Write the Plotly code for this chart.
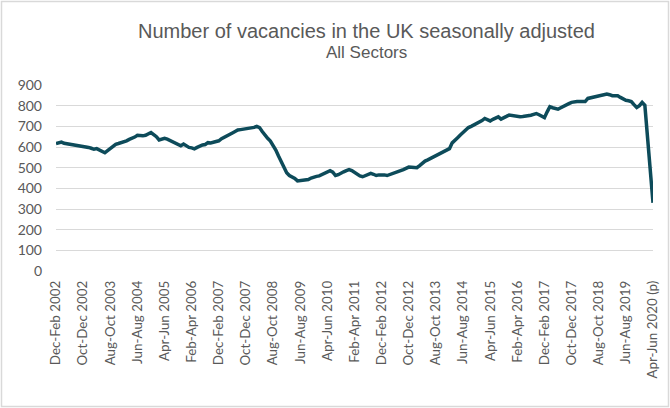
import plotly.graph_objects as go

# ---- data (thousands of vacancies, rolling 3-month periods) ----
month_names = ["Jan", "Feb", "Mar", "Apr", "May", "Jun",
               "Jul", "Aug", "Sep", "Oct", "Nov", "Dec"]

vacancies = [
    616, 620, 624, 618, 616, 614, 614, 612, 610, 608,
    606, 603, 598, 594, 589, 592, 585, 576, 572, 582,
    592, 603, 613, 617, 621, 624, 630, 637, 641, 648,
    657, 655, 654, 657, 662, 670, 660, 650, 634, 637,
    642, 638, 631, 624, 617, 610, 606, 614, 606, 598,
    596, 591, 598, 606, 610, 612, 621, 620, 622, 624,
    630, 640, 646, 652, 661, 668, 675, 682, 684, 686,
    687, 689, 690, 695, 700, 694, 675, 656, 642, 629,
    610, 585, 556, 528, 500, 475, 462, 455, 448, 436,
    438, 443, 443, 443, 450, 456, 458, 460, 466, 472,
    478, 485, 478, 462, 466, 475, 480, 486, 491, 486,
    478, 467, 460, 456, 460, 466, 472, 468, 462, 465,
    467, 465, 462, 466, 470, 475, 480, 486, 491, 496,
    503, 502, 500, 500, 510, 524, 532, 538, 545, 550,
    556, 562, 572, 578, 585, 592, 620, 635, 645, 658,
    670, 682, 694, 700, 706, 713, 720, 728, 738, 733,
    726, 734, 742, 746, 735, 740, 748, 755, 752, 750,
    748, 747, 748, 749, 750, 754, 758, 762, 756, 748,
    742, 770, 795, 790, 785, 783, 790, 798, 804, 810,
    816, 820, 820, 820, 820, 820, 835, 838, 842, 845,
    849, 853, 855, 856, 853, 848, 848, 848, 840, 832,
    826, 824, 820, 805, 791, 800, 816, 802, 637, 476,
    330,
]

# period labels: first period Dec-Feb 2002, monthly steps
periods = []
for i in range(len(vacancies)):
    m = 1 + i
    periods.append(f"{month_names[(m - 2) % 12]}-{month_names[m % 12]} {2002 + m // 12}")

tick_labels = [
    "Dec-Feb 2002", "Oct-Dec 2002", "Aug-Oct 2003", "Jun-Aug 2004",
    "Apr-Jun 2005", "Feb-Apr 2006", "Dec-Feb 2007", "Oct-Dec 2007",
    "Aug-Oct 2008", "Jun-Aug 2009", "Apr-Jun 2010", "Feb-Apr 2011",
    "Dec-Feb 2012", "Oct-Dec 2012", "Aug-Oct 2013", "Jun-Aug 2014",
    "Apr-Jun 2015", "Feb-Apr 2016", "Dec-Feb 2017", "Oct-Dec 2017",
    "Aug-Oct 2018", "Jun-Aug 2019", "Apr-Jun 2020 (p)",
]
tick_positions = periods[::10]

y_ticks = [0, 100, 200, 300, 400, 500, 600, 700, 800, 900]

title_text = "Number of vacancies in the UK seasonally adjusted"
subtitle_text = "All Sectors"

# ---- layout geometry ----
W, H = 670, 408
ML, MR, MT, MB = 56, 17, 85, 137
PW, PH = W - ML - MR, H - MT - MB

def px_x(x):
    return (x - ML) / PW

def px_y(y):
    return (H - MB - y) / PH

grey = "#595959"

fig = go.Figure()
fig.add_trace(go.Scatter(
    x=periods, y=vacancies, mode="lines",
    line=dict(color="#0D4B5A", width=3.5),
    cliponaxis=False, hoverinfo="x+y",
))

fig.update_layout(
    width=W, height=H,
    margin=dict(l=ML, r=MR, t=MT, b=MB, autoexpand=False),
    paper_bgcolor="white", plot_bgcolor="white",
    showlegend=False,
    font=dict(family="Lato, sans-serif", color=grey, size=14),
    xaxis=dict(
        type="category", range=[0, len(vacancies) - 1],
        tickmode="array", tickvals=tick_positions, ticktext=tick_labels,
        tickangle=-90, showgrid=False, zeroline=False, showline=False,
        ticks="", ticklabelstandoff=6, automargin=False,
        tickfont=dict(family="Lato, sans-serif", size=13.4, color=grey),
    ),
    yaxis=dict(
        range=[0, 900], tickmode="array", tickvals=y_ticks,
        showgrid=True, gridcolor="#D9D9D9", gridwidth=1,
        zeroline=False, showline=False, ticks="", ticklabelstandoff=13,
        automargin=False,
        tickfont=dict(family="Lato, sans-serif", size=14, color=grey),
    ),
    annotations=[
        dict(text=title_text, xref="paper", yref="paper",
             x=px_x(366.5), y=px_y(31), xanchor="center", yanchor="middle",
             showarrow=False,
             font=dict(family="Liberation Sans, Arial, sans-serif", size=20, color=grey)),
        dict(text=subtitle_text, xref="paper", yref="paper",
             x=px_x(366), y=px_y(53), xanchor="center", yanchor="middle",
             showarrow=False,
             font=dict(family="Liberation Sans, Arial, sans-serif", size=17, color=grey)),
    ],
    shapes=[
        dict(type="rect", xref="paper", yref="paper",
             x0=px_x(1.5), x1=px_x(W - 1.5), y0=px_y(H - 1.5), y1=px_y(1.5),
             line=dict(color="#D9D9D9", width=1.5), fillcolor="rgba(0,0,0,0)",
             layer="below"),
    ],
)

fig.write_html(
    "out.html",
    config={"displayModeBar": False},
    post_script="document.body.style.margin='0px';document.body.style.overflow='hidden';",
)
